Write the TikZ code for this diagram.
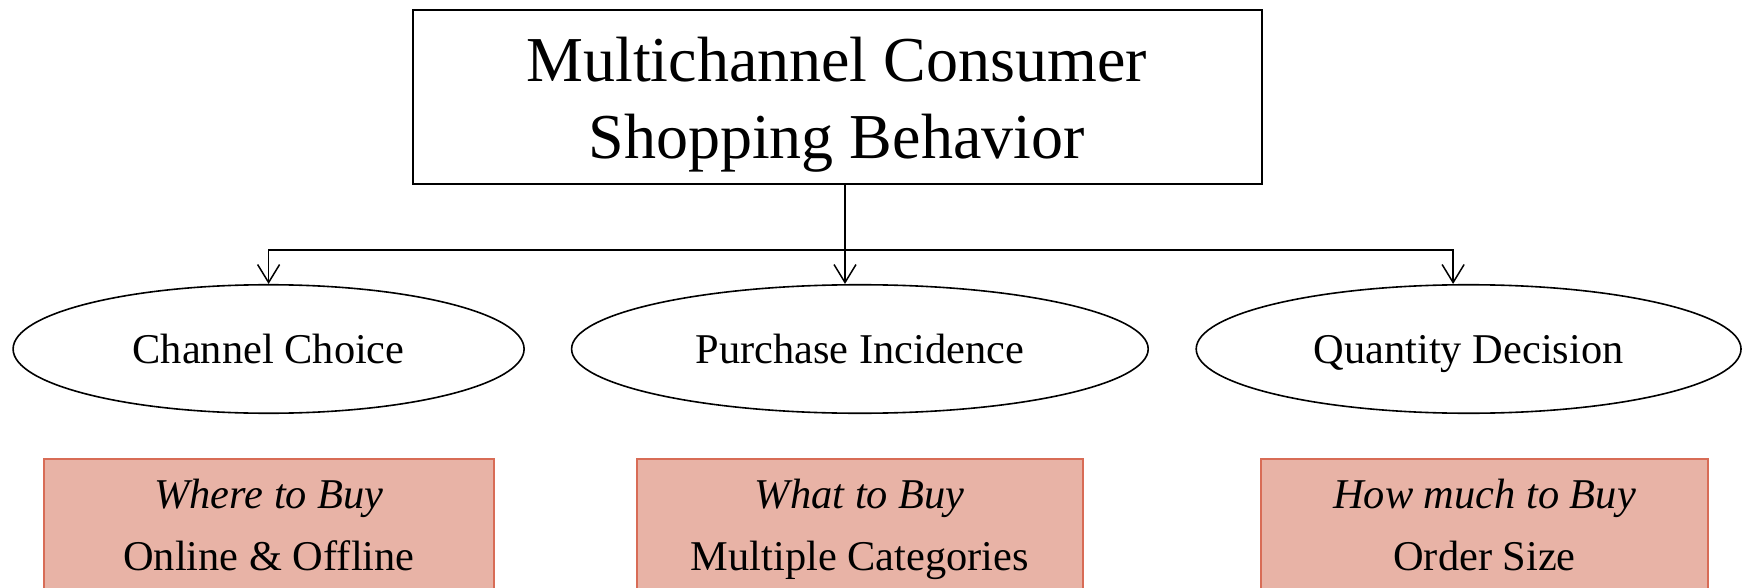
\documentclass[tikz,border=0pt]{standalone}
\usepackage{fontspec}
\setmainfont{Liberation Serif}
\usetikzlibrary{shapes.geometric,arrows.meta,calc}

\definecolor{boxfill}{RGB}{232,179,166}
\definecolor{boxedge}{RGB}{216,108,86}

\begin{document}
\begin{tikzpicture}[x=0.5pt,y=-0.5pt,
  titlebox/.style={draw=black,line width=1pt,rectangle,inner sep=0pt,
    minimum width=424.5pt,minimum height=87.25pt},
  titletext/.style={inner sep=0pt,anchor=base,font=\fontsize{32}{38}\selectfont},
  oval/.style={draw=black,line width=0.8pt,ellipse,inner sep=0pt,
    minimum height=64.25pt,text height=14.3pt,text depth=0pt,
    font=\fontsize{21.2}{25}\selectfont},
  infobox/.style={draw=boxedge,fill=boxfill,line width=1pt,rectangle,inner sep=0pt,
    minimum height=90.5pt},
  infotext/.style={inner sep=0pt,anchor=base,font=\fontsize{21.2}{25}\selectfont},
  conn/.style={draw=black,line width=0.75pt,-{Straight Barb[length=9pt,width=11pt]}}]

\useasboundingbox (0,0) rectangle (1744,588);
\clip (0,0) rectangle (1744,588);

% top box
\node[titlebox] (title) at (837,97.25) {};
\node[titletext] (title1) at (836.5,81.7) {Multichannel Consumer};
\node[titletext] (title2) at (836.5,158.3) {Shopping Behavior};

% the three decision ellipses
\node[oval,minimum width=255.5pt] (chan) at (268.6,349) {Channel Choice};
\node[oval,minimum width=288.3pt] (purch) at (859.9,349) {Purchase Incidence};
\node[oval,minimum width=272.4pt] (quant) at (1468.6,349) {Quantity Decision};

% connectors from the top box to the ellipses
\coordinate (fork) at (845,250);
\coordinate (qin) at ([xshift=-7.75pt]quant.north);
\draw[line width=0.75pt] (title.south -| fork) -- (fork);
\draw[conn] (fork) -| (chan.north);
\draw[conn] (fork) -- (fork |- purch.north);
\draw[conn] (fork) -| (qin);

% shaded answer boxes
\node[infobox,minimum width=225pt] (where) at (269,549.5) {};
\node[infobox,minimum width=223.25pt] (what) at (859.75,549.5) {};
\node[infobox,minimum width=223.5pt] (howmuch) at (1484.5,549.5) {};

\node[infotext] (whereQ) at (where.center |- 0,508) {\itshape Where to Buy};
\node[infotext] (whereA) at (where.center |- 0,570) {Online \& Offline};
\node[infotext] (whatQ) at (what.center |- 0,508) {\itshape What to Buy};
\node[infotext] (whatA) at (what.center |- 0,570) {Multiple Categories};
\node[infotext] (howQ) at (howmuch.center |- 0,508) {\itshape How much to Buy};
\node[infotext] (howA) at (howmuch.center |- 0,570) {Order Size};

\end{tikzpicture}
\end{document}
